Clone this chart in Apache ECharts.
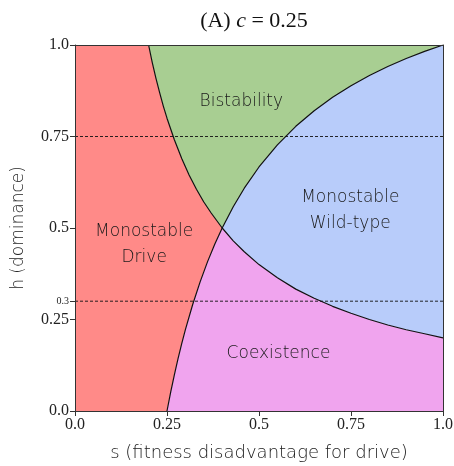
<!DOCTYPE html>
<html>
<head>
<meta charset="utf-8">
<script src="https://cdn.jsdelivr.net/npm/echarts@6.0.0/dist/echarts.min.js"></script>
<style>html,body{margin:0;padding:0;background:#fff;}#c{width:454px;height:466px;}</style>
</head>
<body>
<div id="c"></div>
<script>
// Boundary where the drive invades
var curve1S = [0.2,0.21,0.22,0.23,0.24,0.25,0.27,0.29,0.31,0.33,0.35,0.37,0.4,0.43,0.46,0.5,0.55,0.6,0.65,0.7,0.75,0.8,0.85,0.9,0.95,1.0];
var curve1H = [1.0,0.952,0.909,0.870,0.833,0.8,0.741,0.690,0.645,0.606,0.571,0.541,0.5,0.465,0.435,0.4,0.364,0.333,0.308,0.286,0.267,0.25,0.235,0.222,0.211,0.2];
// Boundary where the wild type invades
var curve2S = [0.25,0.26,0.27,0.28,0.29,0.30,0.32,0.34,0.36,0.38,0.4,0.43,0.46,0.5,0.55,0.6,0.65,0.7,0.75,0.8,0.85,0.9,0.95,1.0];
var curve2H = [0,0.0513,0.0988,0.1429,0.1839,0.2222,0.2917,0.3529,0.4074,0.4561,0.5,0.5581,0.6087,0.6667,0.7273,0.7778,0.8205,0.8571,0.8889,0.9167,0.9412,0.9630,0.9825,1.0];
var dashedH = [0.75, 0.3];
var tickValues = [0, 0.25, 0.5, 0.75, 1];
var yTickValues = [0, 0.25, 0.3, 0.5, 0.75, 1];
var regionNames = ['Monostable\nDrive', 'Bistability', 'Monostable\nWild-type', 'Coexistence'];
var cValue = 0.25;
var crossS = 0.4;

function pts(S, H) { return S.map(function (s, i) { return [s, H[i]]; }); }
var c1 = pts(curve1S, curve1H), c2 = pts(curve2S, curve2H);
var c1Up = c1.filter(function (p) { return p[0] <= crossS; });
var c1Lo = c1.filter(function (p) { return p[0] >= crossS; });
var c2Lo = c2.filter(function (p) { return p[0] <= crossS; });
var c2Up = c2.filter(function (p) { return p[0] >= crossS; });
function rev(a) { return a.slice().reverse(); }

var regions = [
  { poly: [[0, 0], [0, 1]].concat(c1Up, rev(c2Lo)), color: '#FF8A88' },
  { poly: c1Up.concat(c2Up), color: '#A8CE92' },
  { poly: c2Up.concat(rev(c1Lo)), color: '#B8CCFA' },
  { poly: c2Lo.concat(c1Lo, [[1, 0]]), color: '#F0A4EE' }
];
var labelAt = [[0.188, 0.456], [0.452, 0.845], [0.748, 0.547], [0.553, 0.157]];

function fmt(v) {
  if (v === 0) return '0.0';
  if (v === 1) return '1.0';
  return String(v);
}

var sansFont = '"DejaVu Sans", sans-serif';
var series = [];
regions.forEach(function (r, k) {
  series.push({
    type: 'custom', clip: true, z: 1, silent: true,
    data: [0],
    renderItem: function (params, api) {
      return {
        type: 'polygon',
        shape: { points: r.poly.map(function (p) { return api.coord(p); }) },
        style: { fill: r.color, stroke: null }
      };
    }
  });
});
series.push({
  type: 'line', data: c1, symbol: 'none', z: 3, silent: true,
  lineStyle: { color: '#111', width: 1.2 }
});
series.push({
  type: 'line', data: c2, symbol: 'none', z: 3, silent: true,
  lineStyle: { color: '#111', width: 1.2 }
});
dashedH.forEach(function (h) {
  series.push({
    type: 'line', data: [[0, h], [1, h]], symbol: 'none', z: 4, silent: true,
    lineStyle: { color: '#111', width: 0.9, type: [3, 2] }
  });
});
series.push({
  type: 'custom', z: 5, silent: true,
  data: labelAt.map(function (p, i) { return [p[0], p[1], i]; }),
  renderItem: function (params, api) {
    var pt = api.coord([api.value(0), api.value(1)]);
    return {
      type: 'text',
      style: {
        x: pt[0], y: pt[1], text: regionNames[api.value(2)],
        align: 'center', verticalAlign: 'middle',
        fontFamily: sansFont, fontSize: 17, fontWeight: 200,
        lineHeight: 26, fill: '#1a1a1a'
      }
    };
  }
});

var axisFont = '"Liberation Serif", "DejaVu Serif", serif';
var chart = echarts.init(document.getElementById('c'), null, { renderer: 'canvas' });
chart.setOption({
  animation: false,
  backgroundColor: '#fff',
  title: {
    text: '(A) {i|c} = ' + cValue,
    left: 249, top: 5, textAlign: 'center',
    textStyle: {
      fontFamily: axisFont, fontSize: 22, fontWeight: 'normal', color: '#111',
      rich: { i: { fontFamily: axisFont, fontStyle: 'italic', fontSize: 22, color: '#111' } }
    }
  },
  grid: { left: 75, right: 11, top: 45, bottom: 55, outerBoundsMode: 'none', containLabel: false },
  xAxis: [{
    type: 'value', min: 0, max: 1, interval: 0.25,
    name: 's (fitness disadvantage for drive)', nameLocation: 'middle', nameGap: 33,
    nameTextStyle: { fontFamily: sansFont, fontSize: 18, fontWeight: 200, color: '#1a1a1a' },
    axisLine: { show: true, lineStyle: { color: '#333', width: 1 } },
    axisTick: { show: true, length: 5, lineStyle: { color: '#333' } },
    axisLabel: { formatter: fmt, fontFamily: axisFont, fontSize: 16, color: '#222', margin: 6 },
    splitLine: { show: false }, z: 10
  }, {
    type: 'value', min: 0, max: 1, position: 'top',
    axisLine: { show: true, onZero: false, lineStyle: { color: '#333', width: 1 } },
    axisTick: { show: false }, axisLabel: { show: false }, splitLine: { show: false }, z: 10
  }],
  yAxis: [{
    type: 'value', min: 0, max: 1, interval: 0.25,
    name: 'h (dominance)', nameLocation: 'middle', nameGap: 48,
    nameTextStyle: { fontFamily: sansFont, fontSize: 17, fontWeight: 200, color: '#1a1a1a' },
    axisLine: { show: true, lineStyle: { color: '#333', width: 1 } },
    axisTick: { show: true, length: 5, customValues: yTickValues, lineStyle: { color: '#333' } },
    axisLabel: {
      customValues: yTickValues,
      formatter: function (v) { return v === 0.3 ? '{s|0.3}' : fmt(v); },
      fontFamily: axisFont, fontSize: 16, color: '#222', margin: 6,
      rich: { s: { fontFamily: axisFont, fontSize: 10, color: '#222' } }
    },
    splitLine: { show: false }, z: 10
  }, {
    type: 'value', min: 0, max: 1, position: 'right',
    axisLine: { show: true, onZero: false, lineStyle: { color: '#333', width: 1 } },
    axisTick: { show: false }, axisLabel: { show: false }, splitLine: { show: false }, z: 10
  }],
  series: series
});
</script>
</body>
</html>
